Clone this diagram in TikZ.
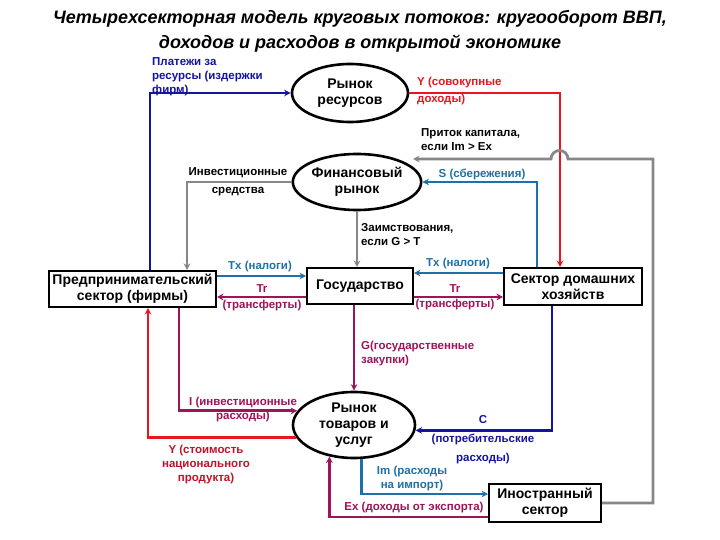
\documentclass[tikz,border=0pt]{standalone}
\usepackage{fontspec}
\setmainfont{Liberation Sans}
\usetikzlibrary{arrows.meta,shapes.geometric}
\definecolor{payblue}{RGB}{20,20,160}
\definecolor{incred}{RGB}{232,22,30}
\definecolor{prodred}{RGB}{190,20,40}
\definecolor{taxteal}{RGB}{30,112,168}
\definecolor{trmag}{RGB}{158,20,88}
\definecolor{fingray}{RGB}{135,135,135}
\begin{document}
\begin{tikzpicture}[x=1pt,y=-1pt,
    market/.style={draw,ellipse,line width=2.6pt,inner sep=0pt,align=center,
      font=\bfseries\fontsize{14}{16}\selectfont},
    sector/.style={draw,line width=2pt,inner sep=0pt,align=center,
      font=\bfseries\fontsize{14}{16}\selectfont},
    flow/.style={line width=2.8pt,draw=#1,-{Stealth[length=6.5pt,width=6.5pt]}},
    lbl/.style={text=#1,inner sep=0pt,font=\bfseries\fontsize{11.5}{14}\selectfont},
    lbl/.default=black]
  \useasboundingbox[fill=white] (0,0) rectangle (720,540);
  % title
  \node[align=center,font=\bfseries\itshape\fontsize{18}{25}\selectfont] (title) at (360,31)
    {Четырехсекторная модель круговых потоков: кругооборот ВВП,\\доходов и расходов в открытой экономике};
  % markets and sectors
  \node[market,minimum width=116,minimum height=58] (resm) at (350,93) {Рынок\\ресурсов};
  \node[market,minimum width=127,minimum height=56] (fin) at (357,182) {Финансовый\\рынок};
  \node[market,minimum width=122,minimum height=66] (goods) at (354,425) {Рынок\\товаров и\\услуг};
  \node[sector,minimum width=167,minimum height=36] (firm) at (132.5,289) {Предпринимательский\\сектор (фирмы)};
  \node[sector,minimum width=106,minimum height=36] (gov) at (360,286) {Государство};
  \node[sector,minimum width=138,minimum height=37] (hh) at (573,286.5) {Сектор домашних\\хозяйств};
  \node[sector,minimum width=112,minimum height=38] (forn) at (545,503) {Иностранный\\сектор};
  % helper points
  \coordinate (payx) at (150,0);
  \coordinate (incx) at (560,0);
  \coordinate (capx) at (653,159);
  \coordinate (hop) at (568,159);
  \coordinate (capin) at (413,159);
  \coordinate (sx) at (537,0);
  \coordinate (invx) at (187,0);
  \coordinate (txa) at (0,276);
  \coordinate (tra) at (0,297);
  \coordinate (txb) at (0,273);
  \coordinate (ix) at (179,0);
  \coordinate (yx) at (148,0);
  \coordinate (cx) at (552,0);
  \coordinate (imy) at (0,494);
  \coordinate (exy) at (0,517);
  % flows
  \draw[flow=payblue] (firm.north -| payx) |- (resm.west);
  \draw[flow=incred] (resm.east) -| (hh.north -| incx);
  \draw[flow=fingray] (forn.east) -| (capx) -- (hop)
    arc[start angle=0,end angle=180,radius=8.5pt] -- (capin);
  \draw[flow=taxteal] (hh.north -| sx) |- (fin.east);
  \draw[flow=fingray] (fin.west) -| (firm.north -| invx);
  \draw[flow=fingray] (fin.south) -- (fin.south |- gov.north);
  \draw[flow=taxteal] (firm.east |- txa) -- (gov.west |- txa);
  \draw[flow=trmag] (gov.west |- tra) -- (firm.east |- tra);
  \draw[flow=taxteal] (hh.west |- txb) -- (gov.east |- txb);
  \draw[flow=trmag] (gov.east |- tra) -- (hh.west |- tra);
  \draw[flow=trmag] (gov.south -| goods.north) -- (goods.north);
  \draw[flow=payblue] (hh.south -| cx) |- (goods.355);
  \draw[flow=trmag] (firm.south -| ix) |- (goods.166);
  \draw[flow=incred] (goods.192) -| (firm.south -| yx);
  \draw[flow=taxteal] (goods.282) |- (forn.west |- imy);
  \draw[flow=trmag] (forn.west |- exy) -| (goods.232);
  % labels
  \node[lbl=payblue,anchor=north west,align=left] (paylbl) at (152,57) {Платежи за\\ресурсы (издержки\\фирм)};
  \node[lbl=incred,anchor=west,align=left] (inclbl) at (417,91) {Y (совокупные\\[3pt]доходы)};
  \node[lbl,anchor=north west,align=left] (caplbl) at (421,128) {Приток капитала,\\если Im > Ex};
  \node[lbl=taxteal] (slbl) at (482,174) {S (сбережения)};
  \node[lbl,align=center] (invlbl) at (238,182) {Инвестиционные\\[4pt]средства};
  \node[lbl,anchor=north west,align=left] (borlbl) at (361,223) {Заимствования,\\если G > T};
  \node[lbl=taxteal] (txalbl) at (260,267) {Tx (налоги)};
  \node[lbl=trmag] (tralbl) at (262,289) {Tr};
  \node[lbl=trmag] (tra2lbl) at (262,306) {(трансферты)};
  \node[lbl=taxteal] (txblbl) at (458,264) {Tx (налоги)};
  \node[lbl=trmag] (trblbl) at (455,289) {Tr};
  \node[lbl=trmag] (trb2lbl) at (455,305) {(трансферты)};
  \node[lbl=trmag,anchor=north west,align=left] (glbl) at (361,341) {G(государственные\\закупки)};
  \node[lbl=trmag,align=center] (ilbl) at (243,410) {I (инвестиционные\\расходы)};
  \node[lbl=prodred,align=center] (ylbl) at (206,465) {Y (стоимость\\национального\\продукта)};
  \node[lbl=payblue,align=center] (clbl) at (483,440) {C\\[5pt](потребительские\\[5pt]расходы)};
  \node[lbl=taxteal,align=center] (imlbl) at (412,479) {Im (расходы\\на импорт)};
  \node[lbl=trmag] (exlbl) at (414,508) {Ex (доходы от экспорта)};
\end{tikzpicture}
\end{document}
